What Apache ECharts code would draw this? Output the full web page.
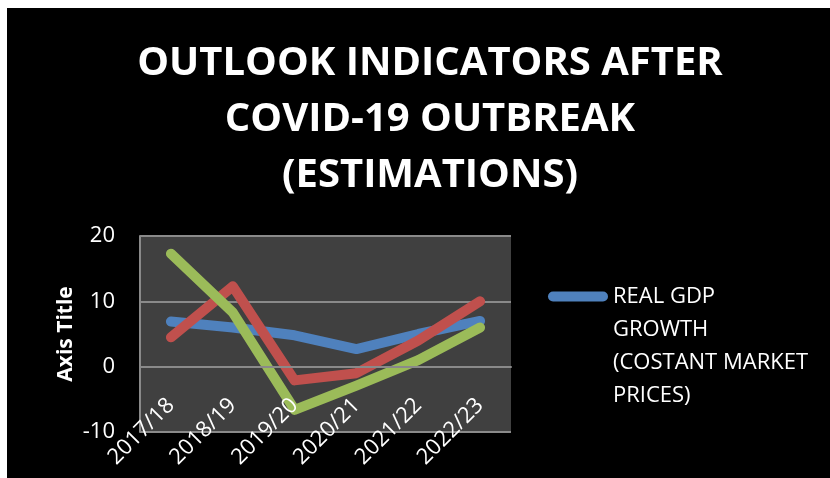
<!DOCTYPE html>
<html>
<head>
<meta charset="utf-8">
<script src="https://cdn.jsdelivr.net/npm/echarts@6/dist/echarts.min.js"></script>
<style>
html,body{margin:0;padding:0;background:#ffffff;}
#chart{width:830px;height:478px;}
</style>
</head>
<body>
<div id="chart"></div>
<script>
const titleText = 'OUTLOOK INDICATORS AFTER\nCOVID-19 OUTBREAK\n(ESTIMATIONS)';
const categories = ['2017/18', '2018/19', '2019/20', '2020/21', '2021/22', '2022/23'];
const seriesNames = ['REAL GDP\nGROWTH\n(COSTANT MARKET\nPRICES)', 'Series 2', 'Series 3'];
const gdpGrowth = [6.9, 6.0, 4.8, 2.7, 5.0, 7.0];
const series2 = [4.5, 12.3, -2.1, -1.0, 4.0, 10.0];
const series3 = [17.3, 8.3, -6.6, -2.9, 1.0, 6.0];
const yTicks = { min: -10, max: 20, interval: 10 };

const colors = ['#4F81BD', '#C0504D', '#9BBB59'];
const chart = echarts.init(document.getElementById('chart'), null, { renderer: 'canvas' });
const font = "'Open Sans', sans-serif";
const mk = (name, data, color) => ({
  name, type: 'line', data,
  symbol: 'none', smooth: false,
  lineStyle: { width: 10, color, cap: 'round', join: 'round' },
  itemStyle: { color },
  emphasis: { disabled: true }
});
chart.setOption({
  backgroundColor: '#000000',
  animation: false,
  graphic: [
    { type: 'rect', shape: { x: 0, y: 0, width: 830, height: 8 }, style: { fill: '#ffffff' }, z: 100 },
    { type: 'rect', shape: { x: 0, y: 0, width: 7, height: 478 }, style: { fill: '#ffffff' }, z: 100 }
  ],
  title: {
    text: titleText,
    left: 430,
    top: 36,
    padding: 0,
    textAlign: 'center',
    textStyle: { color: '#ffffff', fontFamily: font, fontWeight: 'bold', fontSize: 40, lineHeight: 56 }
  },
  legend: {
    data: [seriesNames[0]],
    left: 548,
    top: 181,
    padding: 0,
    itemWidth: 60,
    itemHeight: 10,
    icon: 'path://M5,0 H55 A5,5 0 0 1 55,10 H5 A5,5 0 0 1 5,0 Z',
    formatter: function (name) { return '\n\n\n' + name; },
    textStyle: { color: '#ffffff', fontFamily: font, fontSize: 22, lineHeight: 33 },
    selectedMode: false
  },
  grid: {
    left: 140, top: 236, right: 319, bottom: 46,
    show: true, backgroundColor: '#404040', borderWidth: 0,
    containLabel: false
  },
  xAxis: {
    type: 'category',
    data: categories,
    boundaryGap: true,
    axisLine: { show: true, lineStyle: { color: '#8a8a8a', width: 2 } },
    axisTick: { show: false },
    axisLabel: { rotate: 45, margin: -30, color: '#ffffff', fontFamily: font, fontSize: 22, interval: 0 },
    z: 10
  },
  yAxis: {
    type: 'value',
    min: yTicks.min, max: yTicks.max, interval: yTicks.interval,
    name: 'Axis Title',
    nameLocation: 'middle',
    nameRotate: 90,
    nameGap: 63,
    nameTextStyle: { color: '#ffffff', fontFamily: font, fontWeight: 'bold', fontSize: 21 },
    axisLine: { show: true, lineStyle: { color: '#8a8a8a', width: 2 } },
    axisTick: { show: false },
    axisLabel: { margin: 25, color: '#ffffff', fontFamily: font, fontSize: 22 },
    splitLine: { show: true, lineStyle: { color: '#8a8a8a', width: 2 } }
  },
  series: [
    mk(seriesNames[0], gdpGrowth, colors[0]),
    mk(seriesNames[1], series2, colors[1]),
    mk(seriesNames[2], series3, colors[2])
  ]
});
</script>
</body>
</html>
